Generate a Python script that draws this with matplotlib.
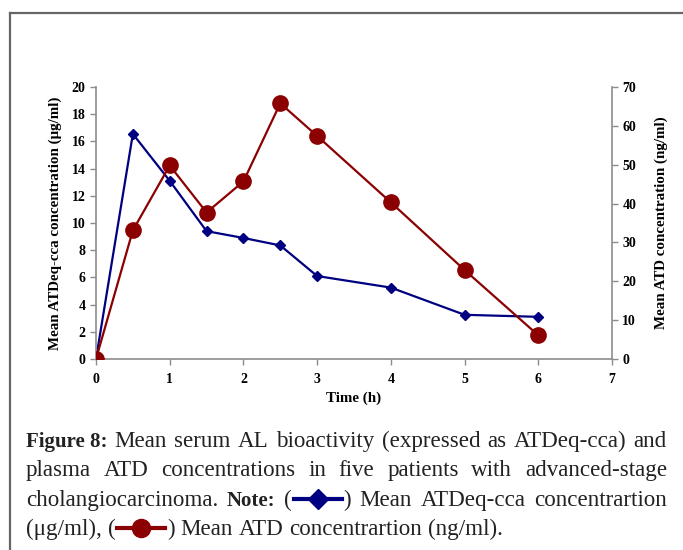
import matplotlib
matplotlib.use('Agg')
import matplotlib.pyplot as plt
from matplotlib.lines import Line2D

# Data
time_h = [0, 0.5, 1, 1.5, 2, 2.5, 3, 4, 5, 6]
atdeq_cca = [0, 16.55, 13.1, 9.4, 8.9, 8.35, 6.1, 5.25, 3.25, 3.1]     # ug/ml, left axis
atd_conc = [0, 33.1, 49.8, 37.7, 45.7, 65.8, 57.4, 40.3, 22.9, 6.1]    # ng/ml, right axis

x_ticks = list(range(0, 8))
left_ticks = list(range(0, 21, 2))
right_ticks = list(range(0, 71, 10))

blue = '#000080'
red = '#8B0000'
spine_gray = '#8c8c8c'

W, H = 683, 550
fig = plt.figure(figsize=(W / 100, H / 100), dpi=100)

tick_font = {'family': 'Liberation Serif', 'weight': 'bold', 'size': 10}
label_font = {'family': 'Liberation Serif', 'weight': 'bold', 'size': 10.8}

ax = fig.add_axes([96 / W, 1 - 359 / H, (612 - 96) / W, (359 - 87) / H])
ax2 = ax.twinx()

ax.plot(time_h, atdeq_cca, color=blue, lw=1.6, marker='D', ms=5.5, mfc=blue, mec=blue)
ax2.plot(time_h, atd_conc, color=red, lw=1.6, marker='o', ms=11, mfc=red, mec=red)

ax.set_xlim(0, 7)
ax.set_ylim(0, 20)
ax2.set_ylim(0, 70)
ax.set_xticks(x_ticks)
ax.set_yticks(left_ticks)
ax2.set_yticks(right_ticks)

for a in (ax, ax2):
    for s in a.spines.values():
        s.set_visible(False)
    a.tick_params(colors=spine_gray, length=4, width=1, labelcolor='black')
    for lab in a.get_xticklabels() + a.get_yticklabels():
        lab.set_fontproperties(tick_font)
ax.spines['left'].set_visible(True)
ax.spines['bottom'].set_visible(True)
ax2.spines['right'].set_visible(True)
for s in (ax.spines['left'], ax.spines['bottom'], ax2.spines['right']):
    s.set_color(spine_gray)
    s.set_linewidth(1.2)
ax.tick_params(axis='x', pad=6)

ax.set_xlabel('Time (h)', fontdict=label_font, labelpad=4)
ax.set_ylabel('Mean ATDeq-cca concentration (\u03bcg/ml)', fontdict=label_font, labelpad=7)
ax2.set_ylabel('Mean ATD concentration (ng/ml)', fontdict=label_font, labelpad=13)

# Box border (top and left)
fig.add_artist(Line2D([10 / W, 1], [1 - 13 / H, 1 - 13 / H], transform=fig.transFigure,
                      color='#666666', lw=1.6))
fig.add_artist(Line2D([10 / W, 10 / W], [1 - 13 / H, 0], transform=fig.transFigure,
                      color='#666666', lw=1.6))

# Caption, justified
cap_size = {'normal': 16.6, 'bold': 15}
cap_family = 'Liberation Serif'
SYM_W = 52  # px width of inline legend symbol

caption_lines = [
    [[('Figure 8:', 'bold')], [('Mean', 'normal')], [('serum', 'normal')], [('AL', 'normal')],
     [('bioactivity', 'normal')], [('(expressed', 'normal')], [('as', 'normal')],
     [('ATDeq-cca)', 'normal')], [('and', 'normal')]],
    [[('plasma', 'normal')], [('ATD', 'normal')], [('concentrations', 'normal')], [('in', 'normal')],
     [('five', 'normal')], [('patients', 'normal')], [('with', 'normal')], [('advanced-stage', 'normal')]],
    [[('cholangiocarcinoma.', 'normal')], [('Note:', 'bold')],
     [('(', 'normal'), ('SYM', 'blue'), (')', 'normal')], [('Mean', 'normal')],
     [('ATDeq-cca', 'normal')], [('concentrartion', 'normal')]],
    [[('(\u03bcg/ml),', 'normal')], [('(', 'normal'), ('SYM', 'red'), (')', 'normal')],
     [('Mean', 'normal')], [('ATD', 'normal')], [('concentrartion', 'normal')], [('(ng/ml).', 'normal')]],
]
baselines = [447, 476, 506, 535]
justify = [True, True, True, False]
x_left, x_right = 26, 667

renderer = fig.canvas.get_renderer()


def piece_width(txt, weight):
    t = fig.text(0, 0, txt, fontsize=cap_size[weight], family=cap_family, weight=weight)
    w = t.get_window_extent(renderer).width
    t.remove()
    return w


space_w = piece_width('a a', 'normal') - piece_width('aa', 'normal')

for groups, y, just in zip(caption_lines, baselines, justify):
    widths = []
    for g in groups:
        ws = [SYM_W if p[0] == 'SYM' else piece_width(p[0], p[1]) for p in g]
        widths.append(ws)
    total = sum(sum(ws) for ws in widths)
    gap = (x_right - x_left - total) / (len(groups) - 1) if just else space_w
    x = x_left
    for g, ws in zip(groups, widths):
        for p, w in zip(g, ws):
            if p[0] == 'SYM':
                col = blue if p[1] == 'blue' else red
                mk = 'D' if p[1] == 'blue' else 'o'
                ms = 10 if p[1] == 'blue' else 13
                ym = 1 - (y - 7) / H
                fig.add_artist(Line2D([(x + 2) / W, (x + w - 2) / W], [ym, ym],
                                      transform=fig.transFigure, color=col, lw=3))
                fig.add_artist(Line2D([(x + w / 2) / W], [ym], transform=fig.transFigure,
                                      color=col, marker=mk, ms=ms, mfc=col, mec=col))
            else:
                fig.text(x / W, 1 - y / H, p[0], fontsize=cap_size[p[1]], family=cap_family,
                         weight=p[1], va='baseline', ha='left', color='#222222')
            x += w
        x += gap

fig.savefig('out.png', dpi=100)
